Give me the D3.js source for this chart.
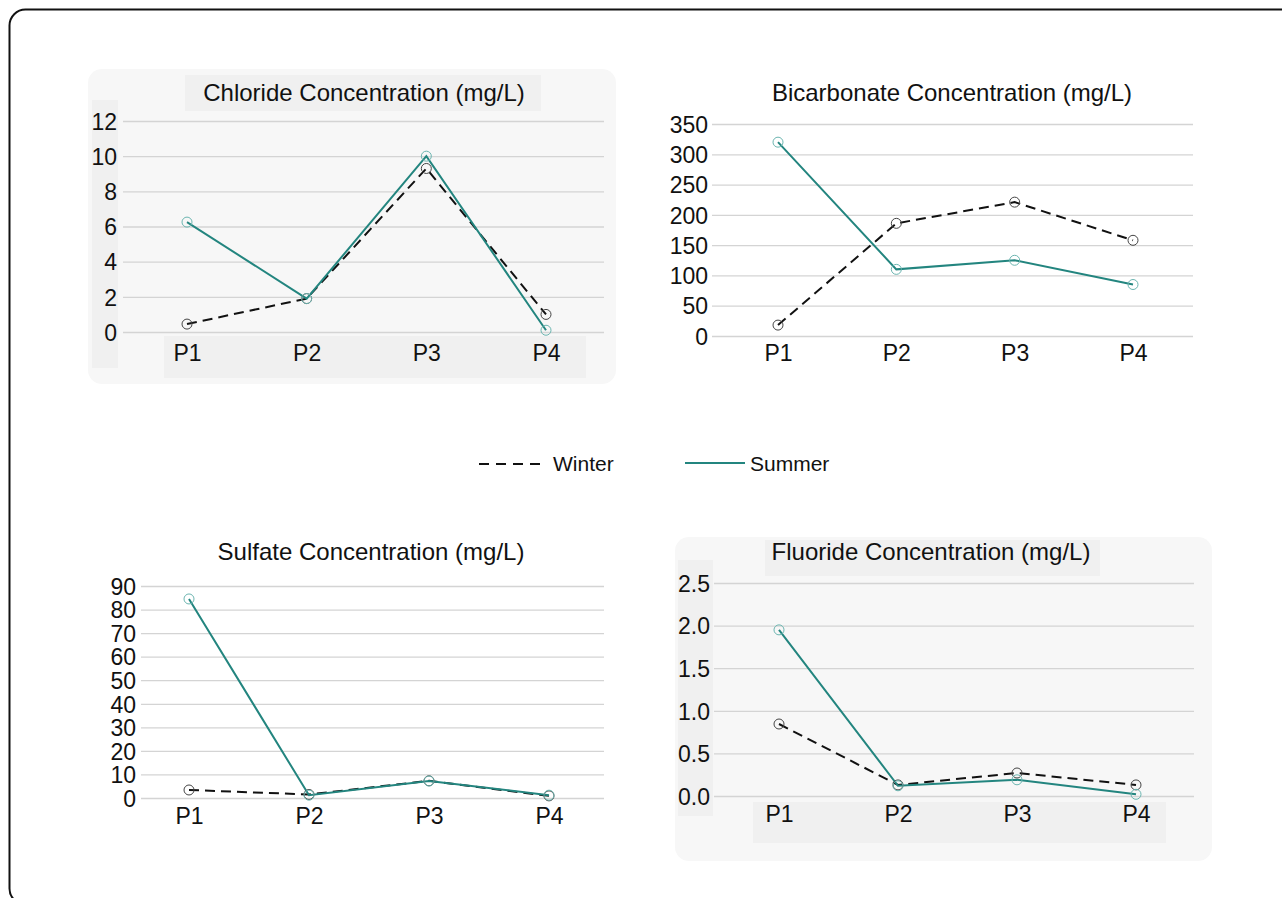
<!DOCTYPE html>
<html>
<head>
<meta charset="utf-8">
<script src="https://cdn.jsdelivr.net/npm/d3@7"></script>
<style>
  body { margin: 0; background: #fff; }
  svg { display: block; font-family: "Liberation Sans", Arial, sans-serif; }
</style>
</head>
<body>
<div id="chart"></div>
<script>
var stations = ["P1", "P2", "P3", "P4"];

var chlorideWinter = [0.45, 1.9, 9.3, 1.0];
var chlorideSummer = [6.25, 1.9, 10.0, 0.1];
var chlorideTicks = [0, 2, 4, 6, 8, 10, 12];

var bicarbWinter = [18, 186, 221, 158];
var bicarbSummer = [320, 110, 125, 85];
var bicarbTicks = [0, 50, 100, 150, 200, 250, 300, 350];

var sulfateWinter = [3.4, 1.5, 7.3, 0.9];
var sulfateSummer = [84.5, 1.2, 7.2, 1.2];
var sulfateTicks = [0, 10, 20, 30, 40, 50, 60, 70, 80, 90];

var fluorideWinter = [0.845, 0.13, 0.27, 0.13];
var fluorideSummer = [1.95, 0.12, 0.19, 0.02];
var fluorideTicks = [0, 0.5, 1.0, 1.5, 2.0, 2.5];

var teal = "#23857f";
var fontStack = "'Liberation Sans', Arial, sans-serif";

var svg = d3.select("#chart")
  .append("svg")
  .attr("width", 1282)
  .attr("height", 898);

// outer frame
svg.append("rect")
  .attr("x", 9.5)
  .attr("y", 9.5)
  .attr("width", 1295)
  .attr("height", 895)
  .attr("rx", 16)
  .style("fill", "none")
  .style("stroke", "#111")
  .style("stroke-width", 2);

var drawPanel = function (p) {
  var g = svg.append("g");

  if (p.boxed) {
    g.append("rect")
      .attr("x", p.box[0]).attr("y", p.box[1])
      .attr("width", p.box[2]).attr("height", p.box[3])
      .attr("rx", 14)
      .style("fill", "#f7f7f7");
    g.append("rect")
      .attr("x", p.titleBox[0]).attr("y", p.titleBox[1])
      .attr("width", p.titleBox[2]).attr("height", p.titleBox[3])
      .style("fill", "#f0f0f0");
    g.append("rect")
      .attr("x", p.yBox[0]).attr("y", p.yBox[1])
      .attr("width", p.yBox[2]).attr("height", p.yBox[3])
      .style("fill", "#f0f0f0");
    g.append("rect")
      .attr("x", p.xBox[0]).attr("y", p.xBox[1])
      .attr("width", p.xBox[2]).attr("height", p.xBox[3])
      .style("fill", "#f0f0f0");
  }

  var y = d3.scaleLinear()
    .domain([0, d3.max(p.ticks)])
    .range([p.bottom, p.top]);

  var x = d3.scalePoint()
    .domain(stations)
    .range([p.x1, p.x4]);

  // gridlines + y labels
  var yAxis = d3.axisLeft(y)
    .tickValues(p.ticks)
    .tickSize(-(p.gridRight - p.gridLeft))
    .tickPadding(6)
    .tickFormat(p.fmt);

  var ya = g.append("g")
    .attr("transform", "translate(" + p.gridLeft + ",0)")
    .call(yAxis);
  ya.select(".domain").remove();
  ya.selectAll(".tick line")
    .style("stroke", "#d4d4d4")
    .style("stroke-width", 1.3);
  ya.selectAll(".tick text")
    .attr("x", p.labelX - p.gridLeft)
    .attr("dy", "0.36em")
    .style("font-size", "23px")
    .style("fill", "#111")
    .style("font-family", fontStack);

  var xAxis = d3.axisBottom(x).tickSize(0).tickPadding(0);
  var xa = g.append("g")
    .attr("transform", "translate(0," + p.bottom + ")")
    .call(xAxis);
  xa.select(".domain").remove();
  xa.selectAll(".tick text")
    .attr("dy", 0)
    .attr("y", p.xLabelY - p.bottom)
    .style("font-size", "23px")
    .style("fill", "#111")
    .style("font-family", fontStack);

  g.append("text")
    .attr("x", p.titleX)
    .attr("y", p.titleY)
    .attr("text-anchor", "middle")
    .style("font-size", "24px")
    .style("fill", "#111")
    .style("font-family", fontStack)
    .text(p.title);

  var line = d3.line()
    .x(function (d, i) { return x(stations[i]); })
    .y(function (d) { return y(d); });

  g.append("path")
    .datum(p.winter)
    .attr("d", line)
    .style("fill", "none")
    .style("stroke", "#111")
    .style("stroke-width", 2)
    .style("stroke-dasharray", "10,6");

  g.append("path")
    .datum(p.summer)
    .attr("d", line)
    .style("fill", "none")
    .style("stroke", teal)
    .style("stroke-width", 2);

  g.selectAll(".wdot")
    .data(p.winter)
    .enter().append("circle")
    .attr("cx", function (d, i) { return x(stations[i]); })
    .attr("cy", function (d) { return y(d); })
    .attr("r", 5)
    .style("fill", "none")
    .style("stroke", "#444")
    .style("stroke-width", 1);

  g.selectAll(".sdot")
    .data(p.summer)
    .enter().append("circle")
    .attr("cx", function (d, i) { return x(stations[i]); })
    .attr("cy", function (d) { return y(d); })
    .attr("r", 5)
    .style("fill", "none")
    .style("stroke", "#6bb5b0")
    .style("stroke-width", 1);
};

drawPanel({
  title: "Chloride Concentration (mg/L)",
  winter: chlorideWinter, summer: chlorideSummer, ticks: chlorideTicks,
  fmt: d3.format("d"),
  boxed: true,
  box: [88, 69, 528, 315],
  titleBox: [185, 75, 356, 36],
  yBox: [92, 100, 26, 268],
  xBox: [164, 336, 422, 42],
  top: 121, bottom: 332, gridLeft: 123, gridRight: 604,
  labelX: 117, x1: 187, x4: 546, xLabelY: 361,
  titleX: 364, titleY: 101
});

drawPanel({
  title: "Bicarbonate Concentration (mg/L)",
  winter: bicarbWinter, summer: bicarbSummer, ticks: bicarbTicks,
  fmt: d3.format("d"),
  boxed: false,
  top: 124, bottom: 336, gridLeft: 712, gridRight: 1193,
  labelX: 708, x1: 778, x4: 1133, xLabelY: 361,
  titleX: 952, titleY: 101
});

drawPanel({
  title: "Sulfate Concentration (mg/L)",
  winter: sulfateWinter, summer: sulfateSummer, ticks: sulfateTicks,
  fmt: d3.format("d"),
  boxed: false,
  top: 586, bottom: 798, gridLeft: 141, gridRight: 604,
  labelX: 136, x1: 189, x4: 549, xLabelY: 824,
  titleX: 371, titleY: 560
});

drawPanel({
  title: "Fluoride Concentration (mg/L)",
  winter: fluorideWinter, summer: fluorideSummer, ticks: fluorideTicks,
  fmt: d3.format(".1f"),
  boxed: true,
  box: [675, 537, 537, 324],
  titleBox: [765, 540, 335, 36],
  yBox: [678, 560, 35, 256],
  xBox: [753, 802, 413, 41],
  top: 583, bottom: 796, gridLeft: 714, gridRight: 1194,
  labelX: 710, x1: 779, x4: 1136, xLabelY: 822,
  titleX: 931, titleY: 560
});

// legend
var legend = svg.append("g")
  .style("font-family", fontStack);
legend.append("line")
  .attr("x1", 479).attr("x2", 542)
  .attr("y1", 464).attr("y2", 464)
  .style("stroke", "#111")
  .style("stroke-width", 2)
  .style("stroke-dasharray", "10,7");
legend.append("text")
  .attr("x", 553).attr("y", 471)
  .style("font-size", "21px")
  .style("fill", "#111")
  .text("Winter");
legend.append("line")
  .attr("x1", 685).attr("x2", 745)
  .attr("y1", 463).attr("y2", 463)
  .style("stroke", teal)
  .style("stroke-width", 2);
legend.append("text")
  .attr("x", 750).attr("y", 471)
  .style("font-size", "21px")
  .style("fill", "#111")
  .text("Summer");
</script>
</body>
</html>
